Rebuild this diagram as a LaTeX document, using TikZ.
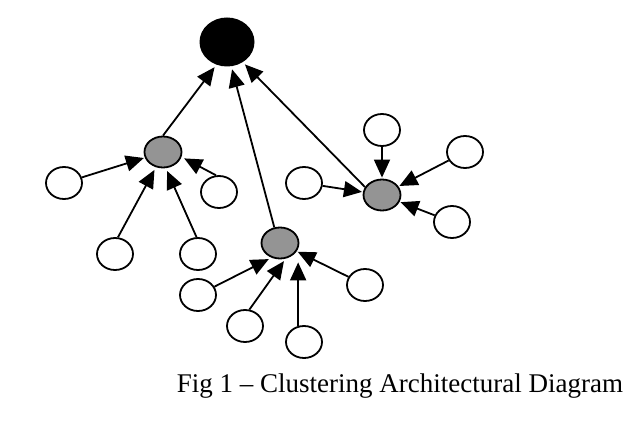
\documentclass[tikz,border=0pt]{standalone}
\usepackage{fontspec}
\setmainfont{Liberation Serif}
\usetikzlibrary{shapes.geometric,arrows.meta,backgrounds}

\definecolor{hubgray}{gray}{0.58}

\begin{document}
\begin{tikzpicture}[x=1pt,y=-1pt,
    leaf/.style={ellipse,draw=black,line width=1.8pt,fill=white,inner sep=0pt,minimum width=36pt,minimum height=32pt},
    hub/.style={ellipse,draw=black,line width=1.8pt,fill=hubgray,inner sep=0pt,minimum width=37pt,minimum height=31pt},
    link/.style={line width=1.8pt,-{Triangle[length=18pt,width=16pt]},shorten >=3pt}]
    % white background
    \begin{scope}[on background layer]
        \fill [white] (0,0) rectangle (636,430);
    \end{scope}

    % draw root
    \node[ellipse,fill=black,inner sep=0pt,minimum width=55pt,minimum height=49pt] (root) at (227,42) {};

    % draw cluster heads
    \node[hub] (hubA) at (163,152) {};
    \node[hub] (hubB) at (280,243) {};
    \node[hub] (hubC) at (382,195) {};

    % draw leaves
    \node[leaf] (a1) at (64,183) {};
    \node[leaf] (a2) at (219,192) {};
    \node[leaf] (a3) at (115,254) {};
    \node[leaf] (a4) at (198,254) {};
    \node[leaf] (b1) at (198,295) {};
    \node[leaf] (b2) at (245,326) {};
    \node[leaf] (b3) at (304,342) {};
    \node[leaf] (b4) at (365,285) {};
    \node[leaf] (c1) at (382,130) {};
    \node[leaf] (c2) at (465,152) {};
    \node[leaf] (c3) at (304,183) {};
    \node[leaf] (c4) at (452,222) {};

    % draw links to root
    \draw[link] (hubA.north) -- (root.245);
    \draw[link] (hubB.110) -- (root.280);
    \draw[link] (hubC.155) -- (root.-52);

    % draw links to cluster heads
    \draw[link,shorten >=1pt] (a1) -- (hubA);
    \draw[link] (a2.100) -- (hubA.-15);
    \draw[link] (a3.80) -- (hubA.-115);
    \draw[link] (a4.95) -- (hubA.-80);
    \draw[link] (b1) -- (hubB.-120);
    \draw[link] (b2.75) -- (hubB.-70);
    \draw[link] (b3.110) -- (b3.110 |- hubB.south);
    \draw[link,shorten >=1pt] (b4) -- (hubB);
    \draw[link,shorten >=1pt] (c1) -- (hubC);
    \draw[link,shorten >=1pt] (c2) -- (hubC);
    \draw[link,shorten >=1pt] (c3) -- (hubC);
    \draw[link,shorten >=1pt] (c4) -- (hubC);

    % add caption
    \node[anchor=base,inner sep=0pt,font=\fontsize{27}{32}\selectfont] (caption) at (400,392) {Fig 1 -- Clustering Architectural Diagram};

\end{tikzpicture}
\end{document}
